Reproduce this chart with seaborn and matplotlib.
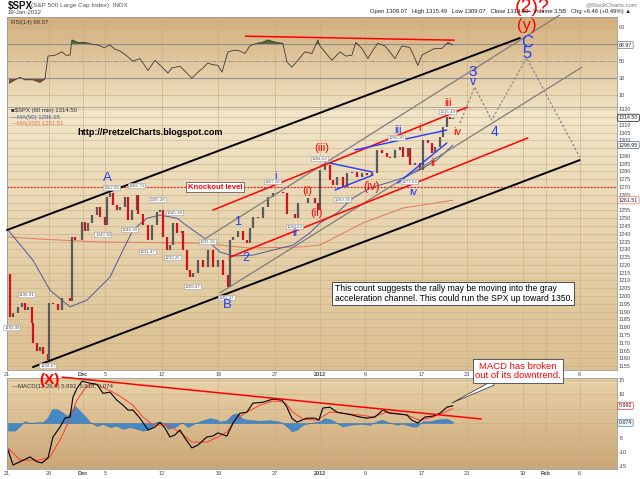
import numpy as np
import matplotlib
matplotlib.use("Agg")
import matplotlib.pyplot as plt
from matplotlib.colors import LinearSegmentedColormap
import seaborn as sns

# x axis = trading-day index, 0 = 21 Nov 2011 (hourly chart)
date_ticks = [0, 3.7, 6.7, 8.7, 13.7, 18.7, 23.7, 27.7, 31.7, 36.7, 40.7, 45.7, 47.7, 50.7]
date_labels = ["21", "28", "Dec", "5", "12", "19", "27", "2012", "9", "17", "23", "30", "Feb", "6"]
bold_dates = ["Dec", "2012", "Feb"]
hidden_mid_dates = ["28", "30", "Feb"]  # covered by (X) and the MACD call-out

# SPX hourly closes
bar_day = [0.09, 0.27, 0.53, 0.97, 1.33, 1.59, 1.86, 2.21, 2.30, 2.65, 2.92, 3.19, 3.63, 3.72,
           4.07, 4.51, 4.87, 5.31, 5.58, 5.75, 6.02, 6.28, 6.64, 6.90, 7.17, 7.52, 7.96, 8.23,
           8.67, 8.85, 9.12, 9.38, 9.73, 10.00, 10.44, 10.71, 11.06, 11.50, 11.59, 12.04, 12.48,
           12.83, 13.27, 13.54, 13.81, 14.16, 14.42, 14.69, 15.04, 15.49, 15.58, 15.93, 16.19,
           16.46, 16.90, 17.35, 17.79, 18.23, 18.67, 19.12, 19.56, 19.73, 20.00, 20.44, 20.88,
           21.24, 21.50, 21.77, 22.21, 22.65, 23.10, 23.54, 23.98, 24.42, 24.78, 25.04, 25.49,
           25.75, 26.19, 26.64, 27.26, 27.52, 27.70, 28.14, 28.58, 28.85, 29.20, 29.73, 30.09,
           30.53, 30.97, 31.42, 31.86, 32.30, 32.74, 33.19, 33.63, 33.89, 34.34, 34.78, 35.04,
           35.49, 35.66, 36.11, 36.55, 36.81, 37.26, 37.61, 37.88, 38.32, 38.58, 38.94, 39.20, 39.47]
bar_close = [1214, 1186.5, 1189, 1193, 1195.5, 1191, 1193, 1183, 1170, 1165, 1167, 1163, 1159, 1195.5,
             1195, 1191, 1199, 1199, 1197, 1238, 1236, 1236, 1247.5, 1242, 1247, 1252, 1257, 1251,
             1245.6, 1263.6, 1266, 1258.6, 1255, 1257, 1263.6, 1249, 1255, 1265, 1253, 1245.6, 1236,
             1245.6, 1254, 1255, 1238, 1229.5, 1232.8, 1247, 1240.5, 1242, 1229.5, 1216.7, 1212,
             1214.8, 1223, 1218.6, 1229.5, 1218.6, 1223, 1213.5, 1206, 1236, 1238, 1242, 1236,
             1234, 1244, 1250.7, 1250, 1257, 1263.6, 1266, 1266.8, 1266, 1253, 1253, 1250,
             1259.7, 1259.7, 1263, 1259.7, 1255, 1281, 1284, 1274.5, 1271, 1276.4, 1270, 1279,
             1279.6, 1276.4, 1279, 1277.7, 1279, 1293.8, 1291.8, 1289, 1288.6, 1293.8, 1295.7, 1289,
             1295, 1284, 1285.4, 1281, 1300, 1298, 1291.8, 1295.7, 1302, 1308.5, 1315, 1314, 1314.5]

ma50_day = [0.09, 2.3, 3.8, 5.58, 7.08, 9.12, 10.27, 11.15, 12.39, 13.54, 15.04, 16.19, 17.7, 18.85,
            20.0, 21.77, 23.54, 25.31, 26.81, 27.7, 29.2, 30.62, 32.12, 33.63, 35.04, 36.55, 38.05, 39.47]
ma50 = [1242.4, 1223, 1203.8, 1193, 1197.4, 1212.2, 1229.5, 1242.4, 1250, 1252, 1250, 1243.7, 1236,
        1228.3, 1225.7, 1226.3, 1229.5, 1232.7, 1240.5, 1246.9, 1253.3, 1262.9, 1269.4, 1272.6,
        1275.8, 1281, 1287.3, 1296.95]
ma200_day = [0.09, 2.92, 8.23, 17.08, 21.5, 25.93, 27.7, 31.5, 35.04, 39.47]
ma200 = [1237.9, 1236.6, 1234.7, 1234, 1230.8, 1231.5, 1232.7, 1246.9, 1256.5, 1261.51]

rsi_day = [0.18, 0.71, 1.15, 1.59, 2.3, 2.92, 3.36, 3.63, 4.25, 4.87, 5.22, 5.58, 5.75, 6.28, 6.9,
           7.52, 8.05, 8.58, 9.12, 9.56, 10.0, 10.62, 11.15, 11.77, 12.48, 13.1, 13.72, 14.25, 14.6,
           15.31, 15.84, 16.37, 16.9, 17.35, 17.79, 18.14, 18.67, 19.03, 19.56, 20.18, 20.62, 21.06,
           21.5, 22.12, 22.57, 23.1, 23.81, 24.42, 24.78, 25.22, 25.75, 26.37, 26.99, 27.52, 27.7,
           28.14, 28.76, 29.47, 30.0, 30.53, 30.88, 31.42, 31.95, 32.39, 32.83, 33.45, 33.89, 34.34,
           34.96, 35.66, 36.02, 36.37, 36.73, 37.26, 37.88, 38.5, 39.03, 39.47]
rsi = [24, 28, 31, 28, 28, 25, 29, 56, 57, 61, 57, 57, 75, 72, 72, 70, 69, 66, 69, 64, 62, 56, 50, 53,
       39, 51, 43, 36, 42, 44, 37, 30, 37, 42, 48, 46, 45, 37, 61, 63, 62, 59, 68, 71, 72, 75, 72,
       71, 49, 43, 51, 61, 59, 75, 68, 61, 51, 61, 56, 57, 72, 65, 53, 63, 71, 68, 61, 53, 68, 66,
       56, 45, 57, 61, 65, 65, 72, 68.97]

macd_day = [0.09, 0.53, 1.15, 2.04, 2.65, 3.1, 3.63, 4.07, 4.69, 5.13, 5.58, 5.84, 6.19, 6.64, 7.35,
            7.96, 8.5, 9.12, 9.73, 10.27, 10.71, 11.15, 11.77, 12.48, 13.1, 13.54, 13.98, 14.42,
            14.87, 15.31, 15.75, 16.37, 16.9, 17.7, 18.23, 18.67, 19.47, 20.0, 20.62, 21.24, 21.77,
            22.65, 23.54, 24.34, 24.78, 25.22, 25.66, 26.55, 27.26, 27.61, 27.96, 28.58, 29.2, 29.73,
            30.53, 31.24, 31.86, 32.57, 33.27, 33.89, 34.78, 35.4, 35.84, 36.37, 36.99, 37.7, 38.32,
            38.94, 39.47]
macd = [-9.3, -14.5, -13.4, -11.7, -13.4, -13.8, -12.1, -4.8, -1.4, 1.7, 2.1, 9, 12, 14.5, 13.8, 13.4,
        10.3, 10.7, 7.9, 6.2, 4.5, 4.5, 1.7, -2.4, -1.4, 0.3, -1.7, -4.8, -4.1, -2.4, -5.2, -8.6, -7.6,
        -4.8, -4.5, -3.4, -4.5, 0, 3.4, 3.8, 6.9, 7.2, 8.3, 7.9, 5.5, 1.7, 0.3, 1.7, 1.7, 1, 5.2, 5.5,
        3.8, 3.4, 2.8, 2.1, 1.7, 2.1, 4.5, 3.4, 3.1, 2.8, 1, 0, 2.1, 2.4, 3.4, 5.5, 5.992]
signal_day = [0.09, 1.15, 2.92, 3.8, 4.69, 5.4, 6.19, 6.9, 7.61, 8.5, 9.38, 10.27, 11.15, 12.04, 12.92,
              14.16, 15.31, 16.37, 17.7, 18.67, 19.47, 20.35, 21.24, 22.39, 23.54, 24.6, 25.31, 26.19,
              27.43, 28.58, 29.73, 31.24, 32.39, 33.63, 35.4, 36.55, 37.7, 38.58, 39.47]
signal = [-8.6, -12.8, -12.8, -11.7, -5.9, 0, 7.9, 12, 13.8, 12.4, 10.7, 8.6, 6.2, 2.1, -0.7, -0.7,
          -3.1, -6.6, -6.6, -4.8, -3.1, 1.7, 3.8, 6.2, 7.6, 7.2, 3.8, 1.4, 1, 3.8, 3.4, 2.8, 2.1, 3.8,
          2.8, 1, 2.1, 3.5, 5.0]
hist_day = [0.09, 0.71, 1.15, 1.59, 2.04, 2.65, 3.19, 3.63, 3.98, 4.42, 4.87, 5.31, 5.75, 6.02, 6.46,
            6.9, 7.35, 7.96, 8.5, 9.12, 9.73, 10.27, 10.88, 11.5, 12.04, 12.65, 13.27, 13.81, 14.25,
            14.87, 15.49, 16.02, 16.64, 17.35, 17.96, 18.58, 18.85, 19.47, 19.91, 20.35, 20.88, 21.5,
            22.39, 23.27, 24.16, 24.78, 25.22, 25.66, 26.19, 26.81, 27.7, 28.14, 28.76, 29.2, 29.73,
            30.35, 31.24, 32.12, 32.74, 33.19, 33.72, 34.51, 35.04, 35.84, 36.28, 36.81, 37.43, 38.05,
            38.94, 39.47]
hist = [-2.6, -2.6, -1, 0.7, 0, 0.3, 0.3, 2, 4.8, 4.8, 3.8, 2.4, 4.8, 5.9, 4.1, 2.4, 0.3, -1, -0.3,
        -1.4, -1, -2, -1.4, -2, -2.7, -2, 0.5, 0, -2, -1.4, 0.3, -1.4, 0, 1, 1.7, 1.2, 0.5, 1, 2.9,
        3.4, 1.4, 1, 0.8, 1, 0.5, -1.2, -2.9, -2.3, -0.6, 0, 0.6, 1.7, 1.1, 0, -1.2, -0.6, -0.3, -0.6,
        0.6, 1.2, 0.3, -0.6, -0.2, -1.2, -1.2, 0.6, 0.6, 1.2, 1.5, 0.5]

# hand-drawn trend lines: (day0, value0, day1, value1)
black_lines = [(0.0, 1242.4, 45.4, 1365.7), (2.3, 1154.4, 50.7, 1287.3)]
gray_lines = [(17.08, 1234.7, 48.94, 1380.5), (18.85, 1202.0, 50.9, 1347.0)]
red_lines = [(18.23, 1255.2, 44.5, 1332.3), (19.73, 1225.0, 46.1, 1301.5)]
blue_lines = [(30.8, 1293.8, 38.94, 1306.6), (28.58, 1285.4, 32.39, 1279.6),
              (29.03, 1268.1, 32.39, 1277.7), (34.6, 1272.6, 38.94, 1298.3)]
rsi_trend = (21.1, 79.4, 39.6, 74.7)
macd_trend = (4.87, 15.9, 42.0, 1.4)
proj_day = [40.1, 41.4, 42.9, 46.0, 50.7]
proj_price = [1311.1, 1334.2, 1313.0, 1352.9, 1289.3]
knockout = 1270

wave_text = ["A", "B", "1", "2", "i", "ii", "(i)", "(ii)", "(iii)", "(iv)", "iii", "iv",
             "i", "ii", "iii", "iv", "3", "v", "4", "C", "5", "(y)", "(2)?"]
wave_day = [8.85, 19.47, 20.44, 21.15, 23.8, 25.49, 26.55, 27.43, 27.88, 32.3, 34.6, 35.93,
            36.55, 37.7, 39.03, 39.9, 41.24, 41.24, 43.19, 46.0, 46.0, 46.0, 46.5]
wave_price = [1275.5, 1194.2, 1247.5, 1224.4, 1277.1, 1240.5, 1267.4, 1253.3, 1295, 1270, 1306.6,
              1266.8, 1307.9, 1285.4, 1324, 1305.3, 1343.9, 1337.4, 1305.3, 1363.1, 1356, 1374, 1385]
wave_color = ["b", "b", "b", "b", "b", "b", "r", "r", "r", "r", "b", "b",
              "r", "r", "r", "r", "b", "b", "b", "b", "b", "r", "r"]
wave_size = [9.5, 9.5, 9, 9, 8, 8, 8, 8, 8, 8.5, 8, 8, 8, 8, 8, 8, 11, 9, 10, 12, 12, 12, 14]

pivot_text = ["1183.38", "1196.91", "1158.67", "1243.38", "1267.06", "1266.73", "1244.38", "1255.28",
              "1231.47", "1245.38", "1232.25", "1209.47", "1231.26", "1202.37", "1267.06", "1248.64",
              "1284.62", "1269.36", "1277.53", "1296.35", "1315.49"]
pivot_day = [0.44, 1.77, 3.63, 8.5, 9.29, 11.5, 10.88, 13.36, 12.48, 14.87, 14.69, 16.46, 17.79,
             19.47, 23.54, 25.49, 27.7, 29.73, 35.66, 34.5, 39.03]
pivot_price = [1179.4, 1200.6, 1155.0, 1239.2, 1269.3, 1270.6, 1242.4, 1261.7, 1228.3, 1253.3, 1224.4,
               1205.8, 1234.7, 1198.7, 1273.2, 1244.3, 1288, 1261.7, 1273.2, 1301.5, 1318.2]

BLUE, RED = "#1f3cff", "#ff0000"

sns.set_style("white")
plt.rcParams["font.family"] = ["Liberation Sans", "DejaVu Sans"]

fig = plt.figure(figsize=(6.4, 4.79), dpi=100)


def panel(top, bottom):
    return fig.add_axes([7 / 640, 1 - bottom / 479, 610 / 640, (bottom - top) / 479])


def shade(ax, c_top, c_bot):
    cmap = LinearSegmentedColormap.from_list("bg", [c_bot, c_top])
    ax.imshow(np.linspace(0, 1, 64)[:, None], extent=[0, 1, 0, 1], transform=ax.transAxes,
              origin="lower", aspect="auto", cmap=cmap, zorder=0)


def style(ax, ylim, yticks, ylabels=None):
    ax.set_xlim(0, 54)
    ax.set_ylim(*ylim)
    ax.set_xticks(date_ticks)
    ax.set_yticks(yticks)
    if ylabels is not None:
        ax.set_yticklabels(ylabels)
    ax.yaxis.tick_right()
    ax.tick_params(axis="both", labelsize=4, length=0, pad=1.5, colors="#444444")
    ax.grid(True, color="#c6ad82", lw=0.5, alpha=0.8)
    ax.set_axisbelow(True)
    for s in ax.spines.values():
        s.set_color("#9a9a9a")
        s.set_linewidth(0.6)


def value_box(ax, y, text, ec, fc="white"):
    ax.text(1.003, y, text, transform=ax.get_yaxis_transform(), fontsize=3.8, va="center",
            ha="left", color="#222222", bbox=dict(boxstyle="round,pad=0.2", fc=fc, ec=ec, lw=0.5),
            clip_on=False, zorder=6)


def date_labels_on(ax, hide=()):
    ax.set_xticklabels(["" if d in hide else d for d in date_labels])
    for t in ax.get_xticklabels():
        if t.get_text() in bold_dates:
            t.set_fontweight("bold")


# ---------------- RSI panel ----------------
ax_rsi = panel(17, 107)
shade(ax_rsi, "#d3ae7c", "#efe0c0")
style(ax_rsi, (-4, 102), [10, 30, 50, 70, 90], ["10", "30", "50", "", "90"])
ax_rsi.set_xticklabels([])
ax_rsi.axhline(70, color="#8f8f8f", lw=0.8)
ax_rsi.axhline(30, color="#8f8f8f", lw=0.8)
ax_rsi.axhline(50, color="#9a9a9a", lw=0.6, ls="-.")
r = np.array(rsi)
ax_rsi.fill_between(rsi_day, 70, r, where=r >= 70, interpolate=True, color="#4e6e2e", lw=0)
ax_rsi.fill_between(rsi_day, 30, r, where=r <= 30, interpolate=True, color="#8f4a2c", lw=0)
sns.lineplot(x=rsi_day, y=rsi, ax=ax_rsi, color="#3a3a3a", lw=0.6, sort=False, estimator=None)
ax_rsi.plot(rsi_trend[0::2], rsi_trend[1::2], color=RED, lw=1.1)
value_box(ax_rsi, 68.97, "68.97", "#777777")
ax_rsi.text(0.006, 0.97, "RSI(14) 68.97", transform=ax_rsi.transAxes, fontsize=4.3,
            va="top", color="#333333")

# ---------------- price panel ----------------
ax_px = panel(107, 370)
shade(ax_px, "#f1e5c9", "#dcc091")
price_ticks = np.arange(1155, 1321, 5)
style(ax_px, (1152.5, 1321.4), price_ticks,
      ["" if v in (1315, 1295, 1260) else str(v) for v in price_ticks])
date_labels_on(ax_px, hidden_mid_dates)
ax_px.axhline(knockout, color=RED, lw=0.8, ls=(0, (1.5, 1.5)), zorder=2)

sns.lineplot(x=ma200_day, y=ma200, ax=ax_px, color="#e5765c", lw=0.7, sort=False, estimator=None)
sns.lineplot(x=ma50_day, y=ma50, ax=ax_px, color="#4f5a9c", lw=0.7, sort=False, estimator=None)

for i in range(1, len(bar_day)):
    down = bar_close[i] < bar_close[i - 1]
    ax_px.vlines(bar_day[i], bar_close[i - 1], bar_close[i], color="#d4101c" if down else "#5a5a5a",
                 lw=1.6, zorder=3)

for d0, v0, d1, v1 in black_lines:
    ax_px.plot([d0, d1], [v0, v1], color="black", lw=1.4, clip_on=False, zorder=4)
for d0, v0, d1, v1 in gray_lines:
    ax_px.plot([d0, d1], [v0, v1], color="#7d7d7d", lw=0.9, clip_on=False, zorder=4)
for d0, v0, d1, v1 in red_lines:
    ax_px.plot([d0, d1], [v0, v1], color=RED, lw=1.1, zorder=4)
for d0, v0, d1, v1 in blue_lines:
    ax_px.plot([d0, d1], [v0, v1], color=BLUE, lw=1.0, zorder=4)
ax_px.plot(proj_day, proj_price, color="#8a8a8a", lw=0.9, ls=(0, (2, 1.5)), clip_on=False, zorder=4)

for t, d, p in zip(pivot_text, pivot_day, pivot_price):
    ax_px.text(d, p, t, fontsize=3.2, ha="center", va="center", color="#555555", zorder=5,
               bbox=dict(boxstyle="round,pad=0.15", fc="white", ec="#9a9a9a", lw=0.4))

for t, d, p, c, s in zip(wave_text, wave_day, wave_price, wave_color, wave_size):
    ax_px.text(d, p, t, fontsize=s, ha="center", va="center", color=BLUE if c == "b" else RED,
               clip_on=False, zorder=7)

ax_px.text(16.0, knockout, "Knockout level", fontsize=5.5, color=RED, fontweight="bold",
           ha="left", va="center", zorder=6,
           bbox=dict(boxstyle="square,pad=0.2", fc="white", ec="#444444", lw=0.5))

value_box(ax_px, 1314.5, "1314.50", "black")
value_box(ax_px, 1296.95, "1296.95", "#4f5a9c")
value_box(ax_px, 1261.51, "1261.51", "#e5765c")

ax_px.text(0.006, 0.995, "\u25a0$SPX (60 min) 1314.50", transform=ax_px.transAxes, fontsize=4.3,
           va="top", color="#333333")
ax_px.text(0.006, 0.97, "\u2014MA(50) 1296.95", transform=ax_px.transAxes, fontsize=4.3,
           va="top", color="#4f5a9c")
ax_px.text(0.006, 0.945, "\u2014MA(200) 1261.51", transform=ax_px.transAxes, fontsize=4.3,
           va="top", color="#e5765c")
ax_px.text(0.115, 0.92, "http://PretzelCharts.blogspot.com", transform=ax_px.transAxes,
           fontsize=6.5, fontweight="bold", va="top", color="black")
ax_px.text(0.537, 0.292,
           "This count suggests the rally may be moving into the gray\n"
           "acceleration channel. This could run the SPX up toward 1350.",
           transform=ax_px.transAxes, fontsize=6.2, va="center", ha="left", color="black",
           linespacing=1.15, zorder=6,
           bbox=dict(boxstyle="square,pad=0.25", fc="white", ec="#333333", lw=0.6))

# ---------------- MACD panel ----------------
ax_macd = panel(378, 469)
shade(ax_macd, "#e8d2a8", "#cba677")
style(ax_macd, (-15.9, 15.6), [-15, -10, -5, 0, 5, 10, 15], ["-15", "-10", "-5", "", "", "10", "15"])
date_labels_on(ax_macd)
ax_macd.fill_between(hist_day, 0, hist, color="#4589c4", edgecolor="#2e6ea8", lw=0.3, zorder=2)
sns.lineplot(x=signal_day, y=signal, ax=ax_macd, color="#ff3b30", lw=0.7, sort=False, estimator=None)
sns.lineplot(x=macd_day, y=macd, ax=ax_macd, color="black", lw=0.8, sort=False, estimator=None)
ax_macd.plot(macd_trend[0::2], macd_trend[1::2], color=RED, lw=1.1, clip_on=False, zorder=4)
value_box(ax_macd, 5.992, "5.992", "#d33")
value_box(ax_macd, 0.074, "0.074", "#4589c4", fc="#eef5fb")
ax_macd.text(0.008, 0.93, "\u2014MACD(12,26,9) 5.992, 5.918, 0.074", transform=ax_macd.transAxes,
             fontsize=4.3, va="top", color="#333333")
ax_macd.text(3.8, 15.0, "(X)", fontsize=11, color=RED, fontweight="bold", ha="center",
             va="center", clip_on=False, zorder=7)
ax_macd.annotate("MACD has broken\nout of its downtrend.", xy=(39.4, 7.0),
                 xytext=(518 / 640, 1 - 371 / 479), textcoords="figure fraction",
                 fontsize=6.8, color=RED, ha="center", va="center", linespacing=1.1, zorder=8,
                 bbox=dict(boxstyle="square,pad=0.25", fc="white", ec="#444444", lw=0.6),
                 arrowprops=dict(arrowstyle="wedge,tail_width=0.5", fc="white", ec="#444444",
                                 lw=0.6, shrinkA=0, shrinkB=0))

# ---------------- header ----------------
fig.text(8 / 640, 1 - 6 / 479, "$SPX", fontsize=7, fontweight="bold", va="center", color="#111111")
fig.text(31 / 640, 1 - 6 / 479, "(S&P 500 Large Cap Index)  INDX", fontsize=4.6, va="center",
         color="#555555")
fig.text(8 / 640, 1 - 13 / 479, "19-Jan-2012", fontsize=4.3, va="center", color="#444444")
fig.text(637 / 640, 1 - 5 / 479, "@StockCharts.com", fontsize=4.3, va="center", ha="right",
         color="#777777")
fig.text(370 / 640, 1 - 12 / 479,
         "Open 1309.07   High 1315.49   Low 1309.07   Close 1314.50   Volume 3.5B   Chg +6.46 (+0.49%) \u25b2",
         fontsize=4.2, va="center", ha="left", color="#222222")

fig.savefig("out.png", dpi=100, facecolor="white")
